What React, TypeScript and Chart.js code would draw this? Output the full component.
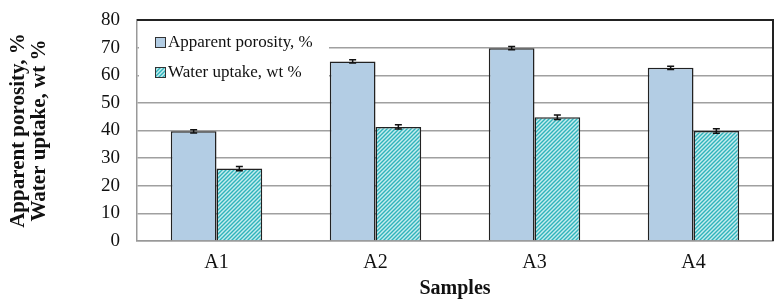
import React, { useEffect, useRef } from "react";
import { Chart, registerables } from "chart.js";

Chart.register(...registerables);

const categories = ["A1", "A2", "A3", "A4"];
const porosity = [39.7, 65.0, 69.8, 62.7];
const porosityErr = [0.6, 0.6, 0.6, 0.6];
const uptake = [26.2, 41.3, 44.8, 39.8];
const uptakeErr = [0.8, 0.8, 0.8, 0.8];
const seriesNames = ["Apparent porosity, %", "Water uptake, wt %"];
const yTitle = ["Apparent porosity, %", "Water uptake, wt %"];
const xTitle = "Samples";

const FONT = "'Liberation Serif', 'Times New Roman', serif";

function makeHatch(): CanvasPattern | string {
  const c = document.createElement("canvas");
  c.width = 4;
  c.height = 4;
  const g = c.getContext("2d");
  if (!g) return "#5cc";
  g.fillStyle = "#c6ecee";
  g.fillRect(0, 0, 4, 4);
  g.strokeStyle = "#2fb3bb";
  g.lineWidth = 1.4;
  g.beginPath();
  g.moveTo(-1, 5);
  g.lineTo(5, -1);
  g.moveTo(-1, 1);
  g.lineTo(1, -1);
  g.moveTo(3, 5);
  g.lineTo(5, 3);
  g.stroke();
  const p = g.createPattern(c, "repeat");
  return p || "#5cc";
}

export default function App() {
  const ref = useRef<HTMLCanvasElement | null>(null);
  useEffect(() => {
    document.body.style.margin = "0";
    const canvas = ref.current;
    if (!canvas) return;
    const hatch = makeHatch();
    const errs = [porosityErr, uptakeErr];

    const legendBg = {
      id: "legendBg",
      beforeDatasetsDraw(chart: any) {
        const ctx = chart.ctx;
        const a = chart.chartArea;
        ctx.save();
        ctx.fillStyle = "#fff";
        ctx.fillRect(a.left + 2, a.top + 8, 190, 62);
        ctx.restore();
      },
    };

    const extras = {
      id: "extras",
      afterDatasetsDraw(chart: any) {
        const ctx = chart.ctx;
        const a = chart.chartArea;
        const ys = chart.scales.y;
        ctx.save();
        // error bars
        ctx.strokeStyle = "#111";
        ctx.lineWidth = 1.5;
        chart.data.datasets.forEach((ds: any, di: number) => {
          const meta = chart.getDatasetMeta(di);
          meta.data.forEach((el: any, i: number) => {
            const v = ds.data[i];
            const e = errs[di][i];
            const y1 = ys.getPixelForValue(v + e);
            const y2 = ys.getPixelForValue(v - e);
            ctx.beginPath();
            ctx.moveTo(el.x, y1);
            ctx.lineTo(el.x, y2);
            ctx.moveTo(el.x - 3.5, y1);
            ctx.lineTo(el.x + 3.5, y1);
            ctx.moveTo(el.x - 3.5, y2);
            ctx.lineTo(el.x + 3.5, y2);
            ctx.stroke();
          });
        });
        // top & right frame
        ctx.strokeStyle = "#222";
        ctx.lineWidth = 2;
        ctx.beginPath();
        ctx.moveTo(a.left, a.top);
        ctx.lineTo(a.right, a.top);
        ctx.lineTo(a.right, a.bottom);
        ctx.stroke();
        // legend
        const fills = ["#b3cde4", hatch];
        ctx.font = `17px ${FONT}`;
        ctx.textBaseline = "middle";
        ctx.textAlign = "left";
        seriesNames.forEach((n, i) => {
          const y = a.top + 22 + i * 30;
          const x = a.left + 18;
          ctx.fillStyle = fills[i] as any;
          ctx.fillRect(x, y - 5, 10, 10);
          ctx.strokeStyle = "#333";
          ctx.lineWidth = 1;
          ctx.strokeRect(x + 0.5, y - 4.5, 10, 10);
          ctx.fillStyle = "#111";
          ctx.fillText(n, x + 13, y + 1);
        });
        ctx.restore();
      },
    };

    const chart = new Chart(canvas, {
      type: "bar",
      data: {
        labels: categories,
        datasets: [
          {
            label: seriesNames[0],
            data: porosity,
            backgroundColor: "#b3cde4",
            borderColor: "#222",
            borderWidth: 1.5,
            barPercentage: 1,
            categoryPercentage: 0.575,
          },
          {
            label: seriesNames[1],
            data: uptake,
            backgroundColor: hatch as any,
            borderColor: "#222",
            borderWidth: 1.5,
            barPercentage: 1,
            categoryPercentage: 0.575,
          },
        ],
      },
      options: {
        animation: false,
        responsive: false,
        maintainAspectRatio: false,
        layout: { padding: { top: 20, right: 9, left: 0, bottom: 0 } },
        plugins: { legend: { display: false }, tooltip: { enabled: false } },
        scales: {
          x: {
            grid: { display: false, drawTicks: false },
            border: { color: "#999", width: 1.5 },
            ticks: { color: "#111", font: { family: FONT, size: 20 }, padding: 10 },
            title: {
              display: true,
              text: xTitle,
              color: "#111",
              font: { family: FONT, size: 20, weight: "bold", lineHeight: 1.1 },
              padding: { top: 0, bottom: 4 },
            },
            afterFit(s: any) {
              s.height = 63;
              s.paddingLeft = 0;
              s.paddingRight = 0;
            },
          },
          y: {
            min: 0,
            max: 80,
            ticks: { stepSize: 10, color: "#111", font: { family: FONT, size: 19 }, padding: 17 },
            grid: { color: "#a0a0a0", lineWidth: 1.5, drawTicks: false },
            border: { color: "#999", width: 1.5 },
            title: {
              display: true,
              text: yTitle,
              color: "#111",
              font: { family: FONT, size: 21, weight: "bold", lineHeight: 1.0 },
              padding: { top: 8, bottom: 0 },
            },
            afterFit(s: any) {
              s.width = 137;
              s.paddingTop = 0;
              s.paddingBottom = 0;
            },
          },
        },
      },
      plugins: [legendBg, extras],
    });
    return () => chart.destroy();
  }, []);
  return (
    <div style={{ position: "relative", width: 782, height: 304, background: "#fff" }}>
      <canvas ref={ref} width={782} height={304} style={{ display: "block" }} />
    </div>
  );
}
